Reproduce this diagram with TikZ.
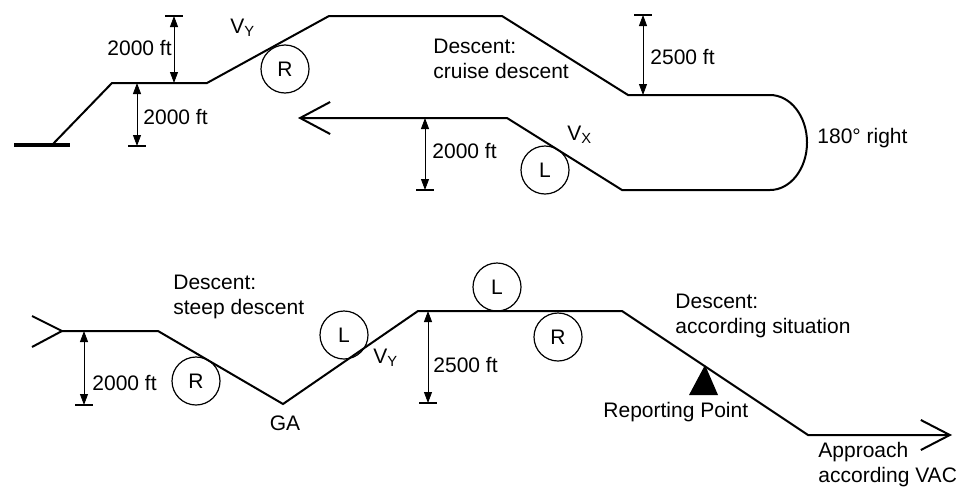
\documentclass[tikz,border=0pt]{standalone}
\usepackage{fontspec}
\setmainfont{Liberation Sans}
\usetikzlibrary{arrows.meta}

\begin{document}
\begin{tikzpicture}[x=0.5pt,y=-0.5pt,every node/.style={font=\fontsize{10.5}{12.5}\selectfont,inner sep=0pt},lbl/.style={anchor=west,align=left},turn/.style={draw,circle,line width=0.6pt,minimum size=24pt},track/.style={line width=1pt},dimline/.style={line width=0.4pt,{Triangle[length=5.5pt,width=4pt]}-{Triangle[length=5.5pt,width=4pt]}},tick/.style={line width=0.6pt}]
\useasboundingbox (0,0) rectangle (956,487);
% upper circuit
\coordinate (rw1) at (14,145); \coordinate (rw2) at (70,145);
\coordinate (t0) at (52,145); \coordinate (t1) at (112,83); \coordinate (t2) at (207,83); \coordinate (t3) at (329,16);
\coordinate (t4) at (502,16); \coordinate (t5) at (628,95); \coordinate (t6) at (770,95);
\coordinate (t8) at (622,190); \coordinate (t9) at (507,118); \coordinate (t10) at (298,118);
\draw[line width=2pt] (rw1)--(rw2);
\draw[track,-{Straight Barb[length=15pt,width=16pt]}] (t0)--(t1)--(t2)--(t3)--(t4)--(t5)--(t6) arc[start angle=90,end angle=-90,x radius=18.5pt,y radius=23.75pt]--(t8)--(t9)--(t10);
\node[turn] (r1) at (285,69) {R};
\node[turn] (l1) at (545,170) {L};
\node[lbl] (vy1) at (230,28) {V\textsubscript{Y}};
\node[lbl] (vx) at (567,135) {V\textsubscript{X}};
\node[lbl] (cruise) at (433,59) {Descent:\\cruise descent};
\node[lbl] (turn180) at (817,138) {180° right};
% upper heights
\coordinate (d1a) at (174,16); \coordinate (d1b) at (174,83);
\coordinate (d2a) at (137,83); \coordinate (d2b) at (137,146);
\coordinate (d3a) at (643,15); \coordinate (d3b) at (643,95);
\coordinate (d4a) at (425,118); \coordinate (d4b) at (425,190);
\draw[dimline] (d1a)--(d1b); \draw[tick] ([xshift=-4.5pt]d1a)--([xshift=4.5pt]d1a);
\draw[dimline] (d2a)--(d2b); \draw[tick] ([xshift=-4.5pt]d2b)--([xshift=4.5pt]d2b);
\draw[dimline] (d3a)--(d3b); \draw[tick] ([xshift=-4.5pt]d3a)--([xshift=4.5pt]d3a);
\draw[dimline] (d4a)--(d4b); \draw[tick] ([xshift=-4.5pt]d4b)--([xshift=4.5pt]d4b);
\node[lbl] (h1) at (107,48) {2000 ft};
\node[lbl] (h2) at (143,117) {2000 ft};
\node[lbl] (h3) at (650,57) {2500 ft};
\node[lbl] (h4) at (432,151) {2000 ft};
% lower circuit
\coordinate (c1) at (32,316); \coordinate (c2) at (32,347);
\coordinate (b0) at (62,331); \coordinate (b1) at (158,331); \coordinate (b2) at (283,404); \coordinate (b3) at (418,311);
\coordinate (b4) at (622,311); \coordinate (b5) at (808,435); \coordinate (b6) at (952,435);
\draw[track] (c1)--(b0)--(c2);
\draw[track,-{Straight Barb[length=14.5pt,width=15pt]}] (b0)--(b1)--(b2)--(b3)--(b4)--(b5)--(b6);
\node[turn] (r2) at (196,381) {R};
\node[turn] (l2) at (344,335) {L};
\node[turn] (l3) at (497,287) {L};
\node[turn] (r3) at (558,337) {R};
\node[lbl] (steep) at (173,297) {Descent:\\steep descent};
\node (ga) at (285,423) {GA};
\node[lbl] (vy2) at (373,358) {V\textsubscript{Y}};
\node[lbl] (situ) at (675,316) {Descent:\\according situation};
\fill (705,365)--(689,395)--(718,395)--cycle;
\node[lbl] (rep) at (603,412) {Reporting Point};
\node[lbl] (appr) at (818,465) {Approach\\according VAC};
% lower heights
\coordinate (d5a) at (84,331); \coordinate (d5b) at (84,405);
\coordinate (d6a) at (428,311); \coordinate (d6b) at (428,403);
\draw[dimline] (d5a)--(d5b); \draw[tick] ([xshift=-4.5pt]d5b)--([xshift=4.5pt]d5b);
\draw[dimline] (d6a)--(d6b); \draw[tick] ([xshift=-4.5pt]d6b)--([xshift=4.5pt]d6b);
\node[lbl] (h5) at (92,383) {2000 ft};
\node[lbl] (h6) at (433,365) {2500 ft};
\end{tikzpicture}
\end{document}
